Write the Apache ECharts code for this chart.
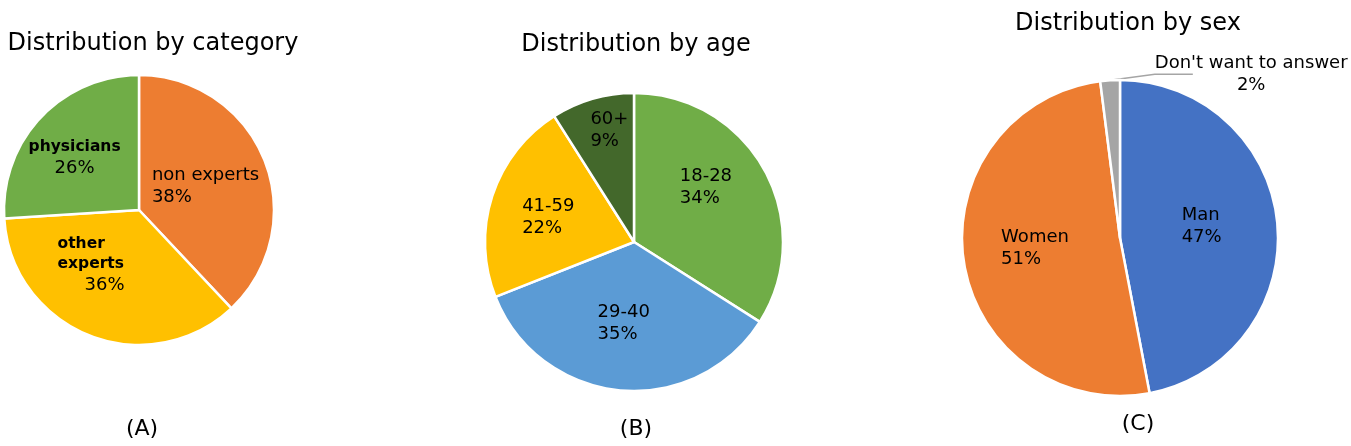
<!DOCTYPE html>
<html>
<head>
<meta charset="utf-8">
<script src="https://cdn.jsdelivr.net/npm/echarts@6/dist/echarts.min.js"></script>
<style>
  html, body { margin: 0; padding: 0; background: #fff; }
  #chart { width: 1351px; height: 446px; }
</style>
</head>
<body>
<div id="chart"></div>
<script>
// data
const categoryNames = ["non experts", "other experts", "physicians"];
const categoryValues = [38, 36, 26];
const ageNames = ["18-28", "29-40", "41-59", "60+"];
const ageValues = [34, 35, 22, 9];
const sexNames = ["Man", "Women", "Don't want to answer"];
const sexValues = [47, 51, 2];

const FONT = "DejaVu Sans";

// label nudges from the default position, per series / slice
const labelShift = [
  [[1, 2], [-22, -10], [-13, -4]],
  [[4, -17], [-3, 4], [-12, -1], [-3, -37]],
  [[0, -4], [-4, -2], [243, 2]]
];

const chart = echarts.init(document.getElementById("chart"));

const txt = { fontFamily: FONT, fontSize: 18, color: "#000", lineHeight: 22 };
const rich = {
  n: Object.assign({}, txt, { align: "left" }),
  p: Object.assign({}, txt, { align: "left" }),
  b: Object.assign({}, txt, { fontSize: 15.5, fontWeight: "bold", align: "left", lineHeight: 20 }),
  pc: Object.assign({}, txt, { align: "center" }),
  bc: Object.assign({}, txt, { fontSize: 15.5, fontWeight: "bold", align: "center", lineHeight: 22 }),
  pi: Object.assign({}, txt, { align: "left", lineHeight: 24, padding: [0, 0, 0, 27] })
};

function catLabel(p) {
  if (p.dataIndex === 0) return "{n|" + p.name + "}\n{p|" + p.value + "%}";
  if (p.dataIndex === 1) return "{b|other}\n{b|experts}\n{pi|" + p.value + "%}";
  return "{bc|" + p.name + "}\n{pc|" + p.value + "%}";
}
function plainLabel(p) {
  return "{n|" + p.name + "}\n{p|" + p.value + "%}";
}

function shifted(s) {
  return (p) => {
    const d = labelShift[s][p.dataIndex];
    const out = { dx: d[0], dy: d[1] };
    // redraw the leader line so it reaches the moved label
    if (p.labelLinePoints) {
      const r = p.labelRect;
      const x0 = r.x + d[0];
      const ym = r.y + r.height / 2 + d[1];
      out.labelLinePoints = [p.labelLinePoints[0], [x0, ym], [x0 + 38, ym]];
    }
    return out;
  };
}

const border = { borderColor: "#fff", borderWidth: 2.5 };
const titleStyle = { fontFamily: FONT, fontSize: 24, fontWeight: "normal", color: "#000" };
const capStyle = { fontFamily: FONT, fontSize: 22, fontWeight: "normal", color: "#000" };

chart.setOption({
  animation: false,
  title: [
    { text: "Distribution by category", left: 148, top: 27, textAlign: "center", textStyle: titleStyle },
    { text: "Distribution by age", left: 631, top: 28, textAlign: "center", textStyle: titleStyle },
    { text: "Distribution by sex", left: 1123, top: 7, textAlign: "center", textStyle: titleStyle },
    { text: "(A)", left: 137, top: 413, textAlign: "center", textStyle: capStyle },
    { text: "(B)", left: 631, top: 413, textAlign: "center", textStyle: capStyle },
    { text: "(C)", left: 1133, top: 408, textAlign: "center", textStyle: capStyle }
  ],
  series: [
    {
      type: "pie",
      center: [139, 210],
      radius: 135,
      startAngle: 90,
      clockwise: true,
      itemStyle: border,
      color: ["#ED7D31", "#FFC000", "#70AD47"],
      label: { position: "inside", formatter: catLabel, rich: rich },
      labelLayout: shifted(0),
      data: categoryNames.map((n, i) => ({ name: n, value: categoryValues[i] }))
    },
    {
      type: "pie",
      center: [634, 242],
      radius: 149,
      startAngle: 90,
      clockwise: true,
      itemStyle: border,
      color: ["#70AD47", "#5B9BD5", "#FFC000", "#43682B"],
      label: { position: "inside", formatter: plainLabel, rich: rich },
      labelLayout: shifted(1),
      data: ageNames.map((n, i) => ({ name: n, value: ageValues[i] }))
    },
    {
      type: "pie",
      center: [1120, 238],
      radius: 158,
      startAngle: 90,
      clockwise: true,
      itemStyle: border,
      color: ["#4472C4", "#ED7D31", "#A5A5A5"],
      label: { position: "inside", formatter: plainLabel, rich: rich },
      labelLayout: shifted(2),
      data: sexNames.map((n, i) => {
        const d = { name: n, value: sexValues[i] };
        if (i === 2) {
          d.label = {
            position: "outside",
            formatter: (p) => "{pc|" + p.name + "}\n{pc|" + p.value + "%}",
            rich: rich
          };
          d.labelLine = { show: true, length: 8, length2: 0, lineStyle: { color: "#A5A5A5", width: 1.5 } };
        }
        return d;
      })
    }
  ]
});
</script>
</body>
</html>
